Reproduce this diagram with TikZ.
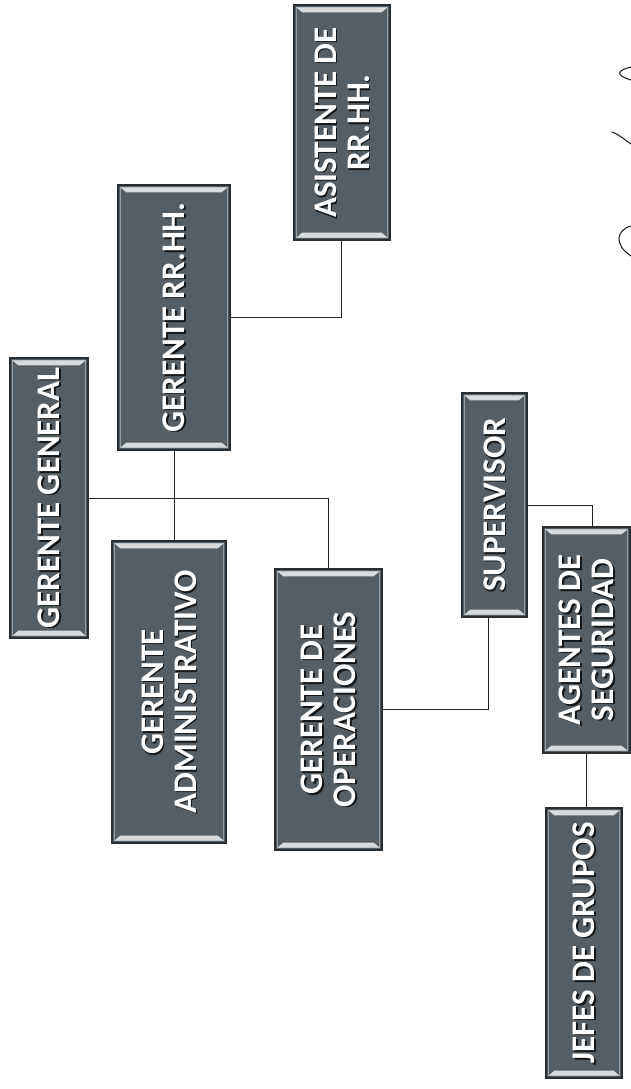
\documentclass[tikz,border=0pt]{standalone}
\usepackage{fontspec}
\setmainfont{Carlito}
\definecolor{boxfill}{RGB}{84,94,100}
\definecolor{boxedge}{RGB}{40,46,50}
\definecolor{bevlight}{RGB}{215,219,221}
\definecolor{innerc}{RGB}{150,158,162}
\definecolor{linkcol}{RGB}{35,35,35}
\newcommand{\labfont}{\fontsize{33}{33}\selectfont\bfseries}
\tikzset{
  obox/.style={draw=boxedge, line width=1.2pt, fill=boxfill, inner sep=0pt},
  innerline/.style={draw=innerc, line width=0.7pt},
  bev/.style={fill=bevlight},
  lab/.style={text=white, font=\labfont, align=center, inner sep=0pt, rotate=90},
  labsh/.style={text=black, font=\labfont, align=center, inner sep=0pt, rotate=90, opacity=0.75},
  link/.style={draw=linkcol, line width=0.9pt},
  hand/.style={draw=black!85, line width=1.1pt, line cap=round},
}
\newcommand{\orgbox}[6]{%
  \node[obox, minimum width={(#4-#2)*1pt}, minimum height={(#5-#3)*1pt}] (#1) at ({(#2+#4)/2},{(#3+#5)/2}) {};
  \draw[innerline] ([shift={(3pt,-3pt)}]#1.north west) rectangle ([shift={(-3pt,3pt)}]#1.south east);
  \fill[bev] ([shift={(3pt,-3pt)}]#1.north west) -- ([shift={(-3pt,-3pt)}]#1.north east) -- ([shift={(-9pt,-8pt)}]#1.north east) -- ([shift={(9pt,-8pt)}]#1.north west) -- cycle;
  \fill[bev] ([shift={(3pt,3pt)}]#1.south west) -- ([shift={(-3pt,3pt)}]#1.south east) -- ([shift={(-9pt,8pt)}]#1.south east) -- ([shift={(9pt,8pt)}]#1.south west) -- cycle;
  \node[labsh] at ([shift={(1.4pt,-1.4pt)}]#1.center) {#6};
  \node[lab] (#1-t) at (#1.center) {#6};
}
\begin{document}
\begin{tikzpicture}[x=1pt,y=-1pt]
\fill[white] (0,0) rectangle (631,1089);
\useasboundingbox (0,0) rectangle (631,1089);

\orgbox{gg}{10}{358}{88}{638}{GERENTE GENERAL}
\orgbox{rrhh}{118}{185}{230}{450}{GERENTE RR.HH.}
\orgbox{asis}{294}{5}{390}{240}{ASISTENTE DE\\RR.HH.}
\orgbox{adm}{112}{541}{226}{843}{GERENTE\\ADMINISTRATIVO}
\orgbox{ops}{275}{569}{382}{850}{GERENTE DE\\OPERACIONES}
\orgbox{sup}{462}{393}{527}{617}{SUPERVISOR}
\orgbox{agt}{543}{527}{630}{753}{AGENTES DE\\SEGURIDAD}
\orgbox{jef}{546}{808}{622}{1078}{JEFES DE GRUPOS}

\draw[link] (gg.east) -| (ops.north);
\draw[link] (rrhh.south) -- (rrhh.south |- adm.north);
\draw[link] (rrhh.east) -| ([xshift=-1pt]asis.south);
\draw[link] (ops.east) -| ([xshift=-6pt]sup.south);
\draw[link] (sup.east) -| ([xshift=6pt]agt.north);
\draw[link] (agt.south) -- (agt.south |- jef.north);

\draw[hand] (631,67) .. controls (618,70) and (614,75) .. (631,80);
\draw[hand] (612,132) .. controls (620,135) and (625,140) .. (631,144);
\draw[hand] (631,226) .. controls (616,230) and (614,245) .. (631,256);
\end{tikzpicture}
\end{document}
